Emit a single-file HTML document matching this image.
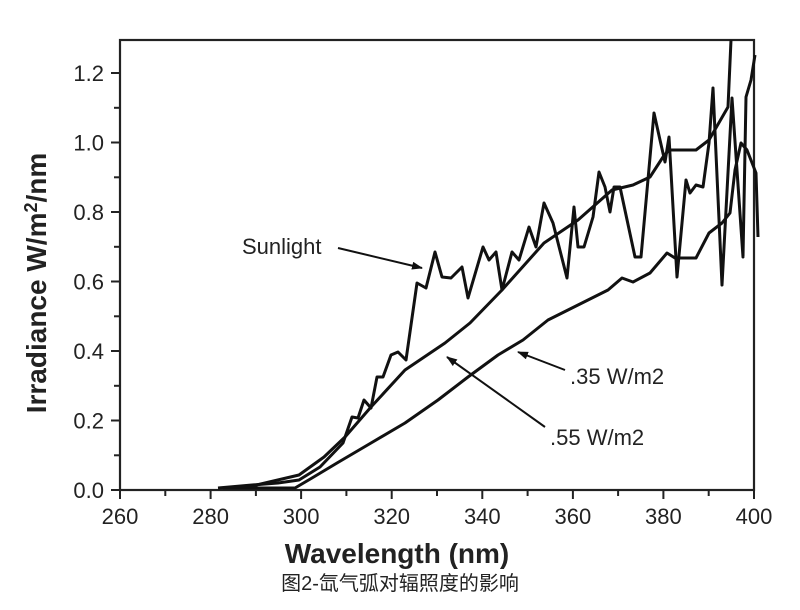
<!DOCTYPE html>
<html><head><meta charset="utf-8"><style>
body{margin:0;background:#fff;width:800px;height:610px;overflow:hidden}
svg{display:block}
text{font-family:"Liberation Sans",Arial,sans-serif;fill:#222}
</style></head><body>
<svg width="800" height="610" viewBox="0 0 800 610">
<defs><marker id="ah" markerWidth="11" markerHeight="8" refX="10" refY="4" orient="auto" markerUnits="userSpaceOnUse"><path d="M0,0 L11,4 L0,8 z" fill="#111"/></marker></defs>
<rect x="120" y="40" width="634" height="450" fill="none" stroke="#222" stroke-width="2.2"/>
<g stroke="#222" stroke-width="2">
<line x1="111" y1="490" x2="120" y2="490"/><line x1="111" y1="420.5" x2="120" y2="420.5"/><line x1="111" y1="351" x2="120" y2="351"/><line x1="111" y1="281.5" x2="120" y2="281.5"/><line x1="111" y1="212" x2="120" y2="212"/><line x1="111" y1="142.5" x2="120" y2="142.5"/><line x1="111" y1="73" x2="120" y2="73"/>
<line x1="114" y1="455.3" x2="120" y2="455.3"/><line x1="114" y1="385.8" x2="120" y2="385.8"/><line x1="114" y1="316.3" x2="120" y2="316.3"/><line x1="114" y1="246.8" x2="120" y2="246.8"/><line x1="114" y1="177.3" x2="120" y2="177.3"/><line x1="114" y1="107.8" x2="120" y2="107.8"/>
<line x1="120" y1="490" x2="120" y2="499"/><line x1="210.6" y1="490" x2="210.6" y2="499"/><line x1="301.1" y1="490" x2="301.1" y2="499"/><line x1="391.7" y1="490" x2="391.7" y2="499"/><line x1="482.3" y1="490" x2="482.3" y2="499"/><line x1="572.9" y1="490" x2="572.9" y2="499"/><line x1="663.4" y1="490" x2="663.4" y2="499"/><line x1="754" y1="490" x2="754" y2="499"/>
<line x1="165.3" y1="490" x2="165.3" y2="496"/><line x1="255.9" y1="490" x2="255.9" y2="496"/><line x1="346.4" y1="490" x2="346.4" y2="496"/><line x1="437" y1="490" x2="437" y2="496"/><line x1="527.6" y1="490" x2="527.6" y2="496"/><line x1="618.1" y1="490" x2="618.1" y2="496"/><line x1="708.7" y1="490" x2="708.7" y2="496"/>
</g>
<g font-size="22" text-anchor="end">
<text x="104" y="498">0.0</text><text x="104" y="428.5">0.2</text><text x="104" y="359">0.4</text><text x="104" y="289.5">0.6</text><text x="104" y="220">0.8</text><text x="104" y="150.5">1.0</text><text x="104" y="81">1.2</text>
</g>
<g font-size="22" text-anchor="middle">
<text x="120" y="524">260</text><text x="210.6" y="524">280</text><text x="301.1" y="524">300</text><text x="391.7" y="524">320</text><text x="482.3" y="524">340</text><text x="572.9" y="524">360</text><text x="663.4" y="524">380</text><text x="754" y="524">400</text>
</g>
<text x="397" y="563" font-size="28" font-weight="bold" text-anchor="middle">Wavelength (nm)</text>
<text transform="translate(46,283) rotate(-90)" font-size="28" font-weight="bold" text-anchor="middle">Irradiance W/m<tspan font-size="18" dy="-9">2</tspan><tspan dy="9">/nm</tspan></text>
<text x="400" y="590" font-size="20" text-anchor="middle" style="font-family:'Liberation Sans','Noto Sans CJK SC',sans-serif">图2-氙气弧对辐照度的影响</text>
<g fill="none" stroke="#111" stroke-width="3" stroke-linejoin="round">
<polyline points="218,488 252,485 278,483 299,480 320,467 343,443 352,417 358,418 364,400 371,408 377,377 383,377 391,355 398,352 406,360 417,283 426,288 435,252 442,277 451,278 462,267 468,298 483,247 489,260 496,252 502,290 512,252 519,260 529,227 536,247 544,203 553,223 567,278 574,207 578,247 584,247 593,217 599,172 605,187 610,212 614,187 620,187 635,257 641,257 654,113 660,140 665,162 669,137 677,277 686,180 690,193 696,185 703,187 709,143 713,88 722,285 732,98 743,257 746,97 751,80 755,55"/>
<polyline points="248,487 299,475 324,457 345,437 371,407 405,370 445,343 470,323 502,290 544,243 578,220 612,190 633,185 650,177 663,157 669,150 696,150 709,140 728,107 731,40"/>
<polyline points="223,488 295,488 312,478 337,463 371,443 405,423 438,400 468,377 498,355 523,340 548,320 574,307 608,290 622,278 633,282 650,273 667,253 675,258 696,258 709,233 722,223 730,213 735,170 741,143 747,150 756,173 758,237"/>
</g>
<g stroke="#111" stroke-width="2">
<line x1="338" y1="248" x2="422" y2="268" marker-end="url(#ah)"/>
<line x1="565" y1="370" x2="518" y2="352" marker-end="url(#ah)"/>
<line x1="545" y1="427" x2="447" y2="357" marker-end="url(#ah)"/>
</g>
<g font-size="22">
<text x="242" y="254">Sunlight</text>
<text x="570" y="384">.35 W/m2</text>
<text x="550" y="445">.55 W/m2</text>
</g>
</svg>
</body></html>
